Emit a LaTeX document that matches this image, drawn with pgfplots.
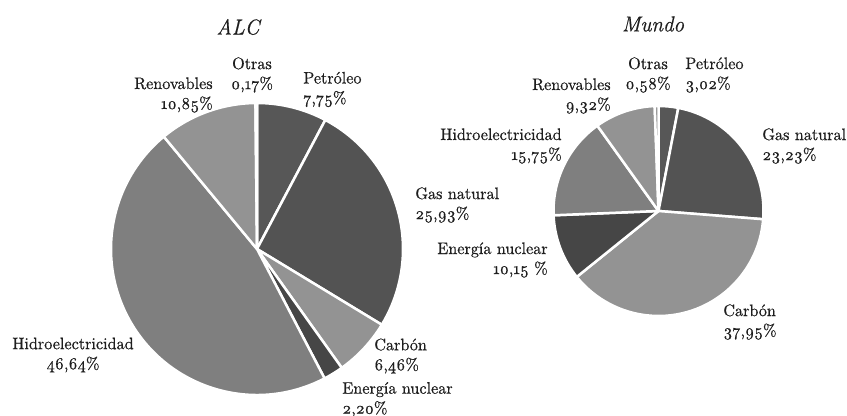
\documentclass[border=0pt]{standalone}
\usepackage{pgfplots}
\pgfplotsset{compat=1.18}
\usepackage{fontspec}
\setmainfont{Latin Modern Roman}[Numbers=OldStyle, FakeBold=0.6, FakeStretch=0.97]

\definecolor{txt}{HTML}{1E1E1E}
\definecolor{cPet}{HTML}{575757}
\definecolor{cGas}{HTML}{535353}
\definecolor{cCar}{HTML}{939393}
\definecolor{cNuc}{HTML}{464646}
\definecolor{cHid}{HTML}{7F7F7F}
\definecolor{cRen}{HTML}{939393}
\definecolor{cOtr}{HTML}{8C8C8C}

% one pie: centre x, centre y (axis units), radius (pt), list value/colour, clockwise from 12 o'clock
\newcommand{\pie}[4]{%
  \xdef\cum{90}%
  \foreach \v/\c in {#4} {
    \pgfmathsetmacro\b{\cum-3.6*\v}
    \fill[\c, draw=white, line width=1.5pt, line join=round]
      (axis cs:#1,#2) -- ++(\cum:#3) arc[start angle=\cum, end angle=\b, radius=#3] -- cycle;
    \xdef\cum{\b}
  }%
}

\begin{document}
\begin{tikzpicture}
\begin{axis}[
    x=0.6pt, y=0.6pt,
    xmin=0, xmax=847, ymin=0, ymax=416,
    hide axis, clip=false,
]
\pgfplotsextra{
  % ALC
  \pie{257}{167}{87.6pt}{7.75/cPet, 25.93/cGas, 6.46/cCar, 2.20/cNuc, 46.64/cHid, 10.85/cRen, 0.17/cOtr}
  % Mundo
  \pie{658.5}{205}{63pt}{3.02/cPet, 23.23/cGas, 37.95/cCar, 10.15/cNuc, 15.75/cHid, 9.32/cRen, 0.58/cOtr}
}
\coordinate (bl) at (axis cs:0,0);
\coordinate (tr) at (axis cs:847,416);
\begin{scope}[every node/.style={text=txt, font=\fontsize{10}{12}\selectfont, inner sep=0pt}]
\node[font=\fontsize{13}{15}\selectfont\itshape, text=txt] at (axis cs:238,389) {ALC};
\node[font=\fontsize{13}{15}\selectfont\itshape, text=txt] at (axis cs:653,392) {Mundo};
% ALC labels
\node[align=center] at (axis cs:252,341) {Otras\\0,17\%};
\node[align=right, anchor=east] at (axis cs:213,321) {Renovables\\10,85\%};
\node[align=left, anchor=west] at (axis cs:303,326.5) {Petróleo\\7,75\%};
\node[align=left, anchor=west] at (axis cs:415,211) {Gas natural\\25,93\%};
\node[align=left, anchor=west] at (axis cs:374,60) {Carbón\\6,46\%};
\node[align=left, anchor=west] at (axis cs:342,16.5) {Energía nuclear\\2,20\%};
\node[align=center] at (axis cs:73,61) {Hidroelectricidad\\46,64\%};
% Mundo labels
\node[align=center] at (axis cs:648,341) {Otras\\0,58\%};
\node[align=left, anchor=west] at (axis cs:685,341) {Petróleo\\3,02\%};
\node[align=right, anchor=east] at (axis cs:611,320) {Renovables\\9,32\%};
\node[align=right, anchor=east] at (axis cs:562,270) {Hidroelectricidad\\15,75\%};
\node[align=left, anchor=west] at (axis cs:762,270) {Gas natural\\23,23\%};
\node[align=right, anchor=east] at (axis cs:548,156) {Energía nuclear\\10,15 \%};
\node[align=left, anchor=west] at (axis cs:723,94) {Carbón\\37,95\%};
\end{scope}
\end{axis}
\pgfresetboundingbox
\path (bl) rectangle (tr);
\end{tikzpicture}
\end{document}
